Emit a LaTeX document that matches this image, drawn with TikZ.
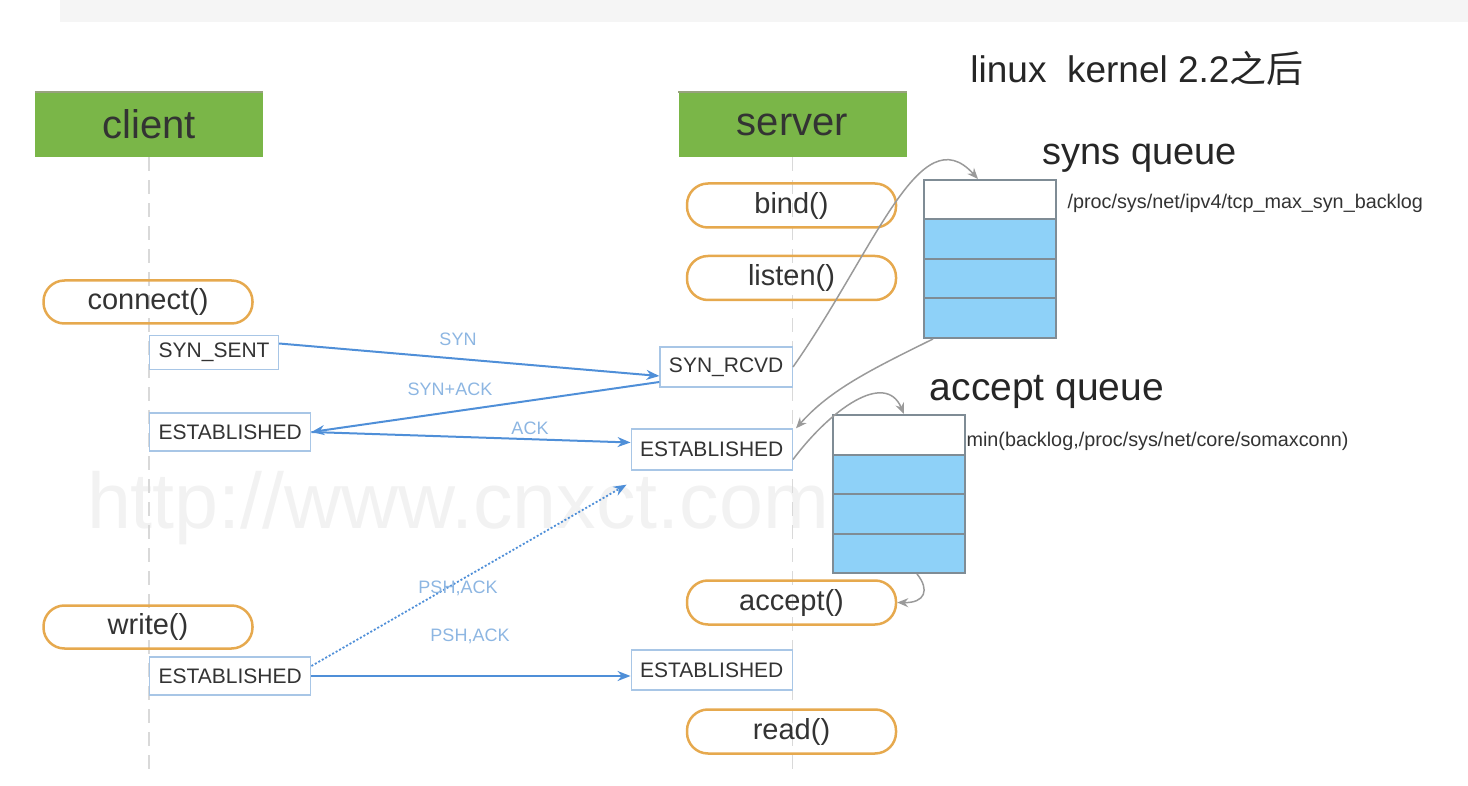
\documentclass[tikz,border=0pt]{standalone}
\usepackage{fontspec}
\setmainfont{Liberation Sans}
\newfontfamily\cjk{Noto Sans CJK SC}
\usetikzlibrary{arrows.meta}
\definecolor{hdrgreen}{HTML}{7AB648}
\definecolor{hdrtop}{HTML}{98A27E}
\definecolor{pillorange}{HTML}{E6A94E}
\definecolor{stateblue}{HTML}{A8C6E6}
\definecolor{msgblue}{HTML}{4F8FD8}
\definecolor{lblblue}{HTML}{8DB6E2}
\definecolor{qfill}{HTML}{8ED1F8}
\definecolor{qline}{HTML}{7F8C95}
\definecolor{curvegray}{HTML}{9A9A9A}

\begin{document}
\begin{tikzpicture}[x=1pt, y=-1pt,
    every node/.style={font=\fontsize{19}{22}\selectfont, text=black!80},
    header/.style={fill=hdrgreen, minimum width=228pt, minimum height=65pt,
      font=\fontsize{40}{46}\selectfont},
    call/.style={draw=pillorange, line width=2.5pt, rounded corners=21pt,
      minimum width=209pt, minimum height=43pt, font=\fontsize{29}{34}\selectfont},
    state/.style={draw=stateblue, line width=1.3pt, fill=white, inner xsep=9pt,
      minimum height=38pt, font=\fontsize{21}{24}\selectfont},
    msg/.style={draw=msgblue, line width=2pt, -{Stealth[length=13pt,width=10pt]}},
    lbl/.style={text=lblblue, font=\fontsize{18}{20}\selectfont},
    cell/.style={draw=qline, line width=2pt, fill=qfill, minimum width=132pt,
      minimum height=39.5pt, inner sep=0pt},
    move/.style={draw=curvegray, line width=1.5pt, -{Stealth[length=11pt,width=9pt]}},
    life/.style={draw=black!15, line width=1.5pt, dash pattern=on 14pt off 9pt}]
  \useasboundingbox (0,0) rectangle (1468,786);
  \fill[black!4] (60,0) rectangle (1468,22);
  \node[text=black!5, font=\fontsize{79}{90}\selectfont] (mark) at (458,508) {http://www.cnxct.com};

  \node[header] (client) at (149,124.5) {client};
  \node[header] (server) at (792.5,124.5) {server};
  \draw[hdrtop, line width=2pt] (client.north west) -- (client.north east);
  \draw[hdrtop, line width=2pt] (server.north west) -- (server.north east);
  \node[text=black!85, font=\fontsize{37}{42}\selectfont] (title) at (1137,68)
    {linux\ \ kernel 2.2{\cjk 之后}};

  \coordinate (clientend) at (149,770);
  \coordinate (serverend) at (792.5,770);
  \draw[life] (client.south) -- (clientend);
  \draw[life] (server.south) -- (serverend);

  \node[call] (connect) at (148,302) {connect()};
  \node[call] (write) at (148,627) {write()};
  \node[call, minimum height=44pt] (bind) at (791.5,205.5) {bind()};
  \node[call, minimum height=44pt] (listen) at (791.5,278) {listen()};
  \node[call, minimum height=44pt] (accept) at (791.5,602.5) {accept()};
  \node[call, minimum height=44pt] (read) at (791.5,731.5) {read()};

  \node[state, anchor=west, minimum height=34pt] (synsent) at (149,352.5) {SYN\_SENT};
  \node[state, anchor=west] (cest) at (149,432) {ESTABLISHED};
  \node[state, anchor=west] (cest2) at (149,676) {ESTABLISHED};
  \node[state, anchor=east, minimum height=40pt] (synrcvd) at (793,367) {SYN\_RCVD};
  \node[state, anchor=east, minimum height=41pt] (sest) at (793,449.5) {ESTABLISHED};
  \node[state, anchor=east, minimum height=40pt] (sest2) at (793,670) {ESTABLISHED};

  \node[cell, fill=white] (syn1) at (990,199.75) {};
  \node[cell, fill=white] (acc1) at (899,434.75) {};
  \foreach \i in {2,3,4} {
    \node[cell] (syn\i) at (990,{199.75+39.5*(\i-1)}) {};
    \node[cell] (acc\i) at (899,{434.75+39.5*(\i-1)}) {};
  }
  \node[text=black!85, font=\fontsize{38}{44}\selectfont] (synlabel) at (1140,158) {syns queue};
  \node[anchor=west, font=\fontsize{19.8}{22}\selectfont] (synpath) at (1064,203) {/proc/sys/net/ipv4/tcp\_max\_syn\_backlog};
  \node[text=black!85, font=\fontsize{39}{44}\selectfont] (acclabel) at (1047,392) {accept queue};
  \node[anchor=west, font=\fontsize{19.8}{22}\selectfont] (accpath) at (963,441) {min(backlog,/proc/sys/net/core/somaxconn)};

  \draw[msg] ([yshift=9pt]synsent.east) -- ([yshift=-9pt]synrcvd.west);
  \draw[msg] ([yshift=-15pt]synrcvd.west) -- (cest.east);
  \draw[msg] (cest.east) -- ([yshift=7pt]sest.west);
  \draw[msg, dotted, line width=1.8pt] ([yshift=10pt]cest2.east) -- ([xshift=-4pt,yshift=-14pt]sest.south west);
  \draw[msg] (cest2.east) -- (sest2.west |- cest2.east);
  \node[lbl] (lblsyn) at (458,339) {SYN};
  \node[lbl] (lblsynack) at (450,389) {SYN+ACK};
  \node[lbl] (lblack) at (530,428) {ACK};
  \node[lbl] (lblpsh) at (458,588) {PSH,ACK};
  \node[lbl] (lblpsh2) at (470,636) {PSH,ACK};

  \draw[move] (synrcvd.east) .. controls (875,250) and (920,115) .. ([xshift=-12pt]syn1.north);
  \draw[move] ([xshift=10pt]syn4.south west) .. controls (870,370) and (830,390) .. ([xshift=3pt]sest.north east);
  \draw[move] ([yshift=-10pt]sest.east) .. controls (830,410) and (885,370) .. ([xshift=5pt]acc1.north);
  \draw[move] ([xshift=18pt]acc4.south) .. controls (930,590) and (925,603) .. (accept.east);
\end{tikzpicture}
\end{document}
